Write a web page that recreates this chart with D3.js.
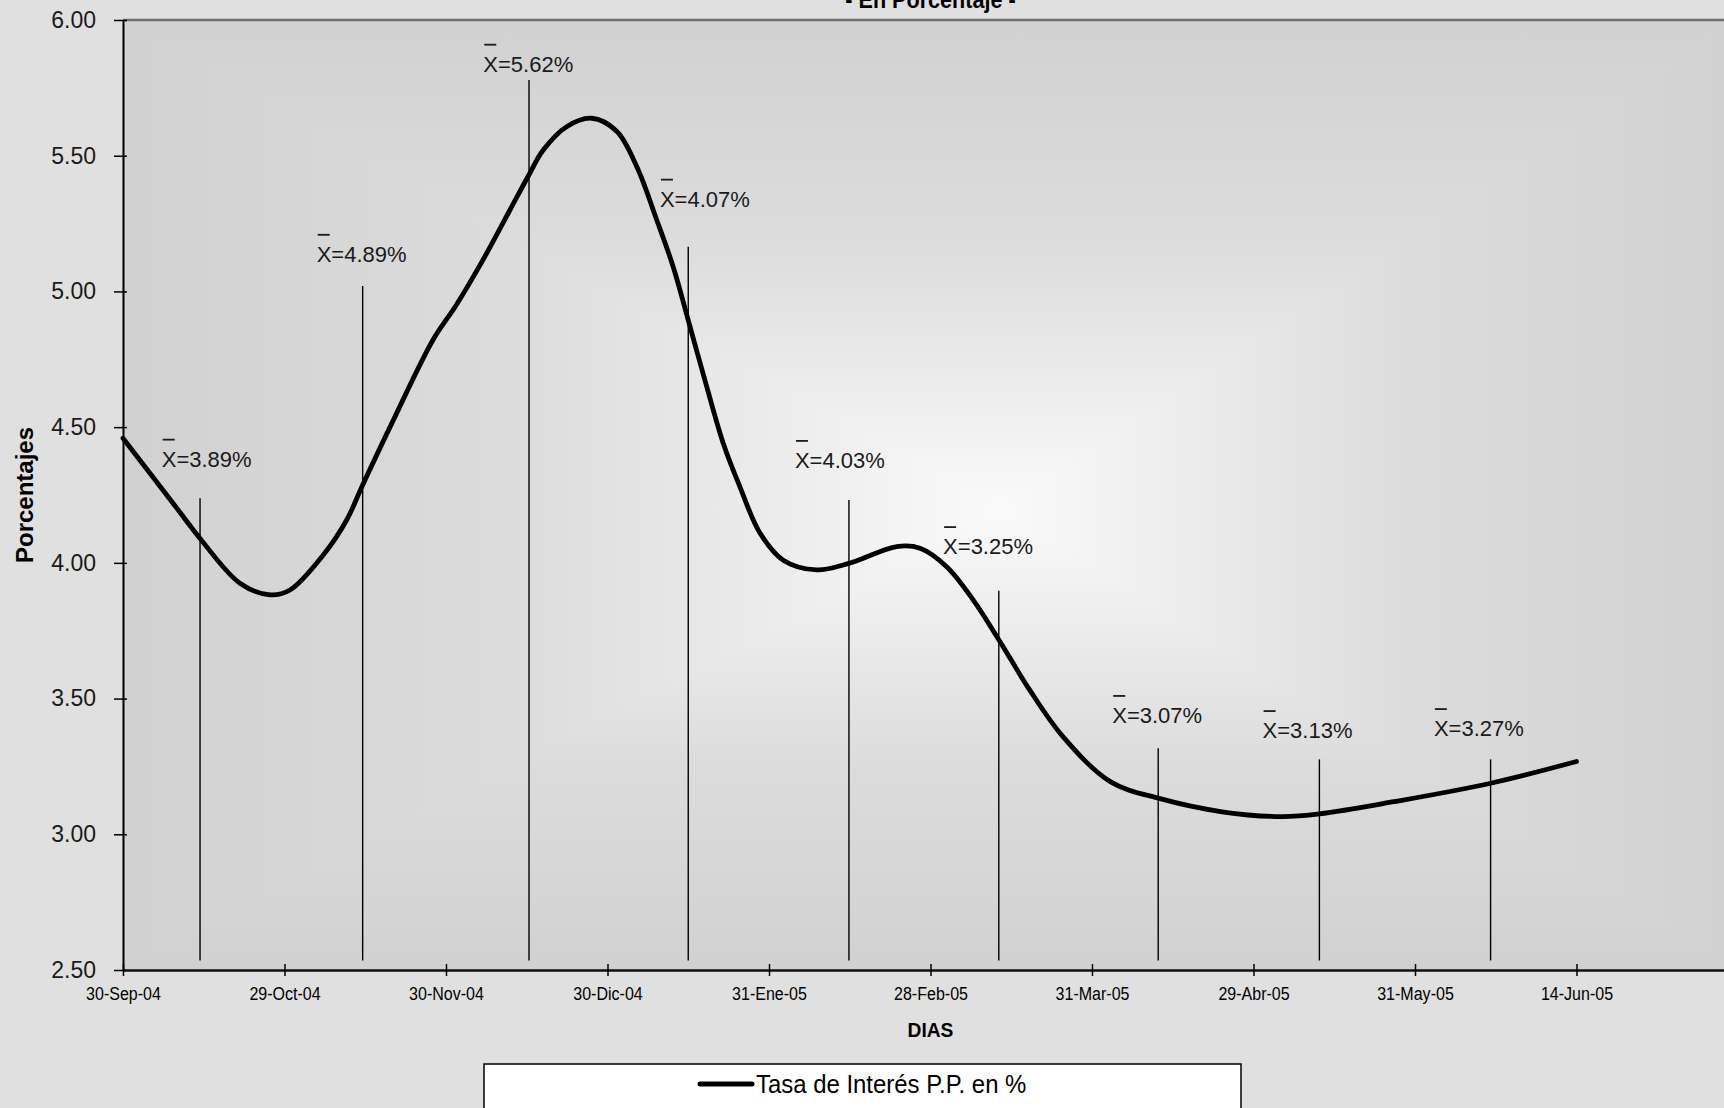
<!DOCTYPE html>
<html>
<head>
<meta charset="utf-8">
<script src="https://cdn.jsdelivr.net/npm/d3@7"></script>
<style>
  html, body { margin: 0; padding: 0; background: #e0e0e0; }
  svg { display: block; }
  text { font-family: "Liberation Sans", Arial, sans-serif; }
</style>
</head>
<body>
<svg id="chart" width="1724" height="1108"></svg>
<script>
// Etiquetas del eje de categorías (DIAS)
const fechas = ["30-Sep-04", "29-Oct-04", "30-Nov-04", "30-Dic-04", "31-Ene-05",
                "28-Feb-05", "31-Mar-05", "29-Abr-05", "31-May-05", "14-Jun-05"];

// Serie "Tasa de Interés P.P. en %": posición sobre el eje (en períodos) y valor
const periodo = [0, 0.311, 0.477, 0.724, 0.910, 1.034, 1.240, 1.385, 1.484,
                 1.674, 1.920, 2.066, 2.229, 2.396, 2.514, 2.601, 2.747, 2.902, 3.057,
                 3.181, 3.305, 3.407, 3.511, 3.614, 3.717, 3.820, 3.944, 4.088, 4.295,
                 4.495, 4.791, 4.935, 5.100, 5.265, 5.424, 5.616, 5.820, 6.113, 6.410,
                 6.805, 7.176, 7.409, 7.870, 8.469, 9.0];
const tasa = [4.459, 4.219, 4.090, 3.925, 3.882, 3.900, 4.029, 4.158, 4.287,
              4.526, 4.822, 4.952, 5.116, 5.300, 5.430, 5.520, 5.607, 5.638, 5.590,
              5.460, 5.263, 5.090, 4.870, 4.650, 4.440, 4.280, 4.110, 4.010, 3.974,
              3.998, 4.060, 4.054, 3.986, 3.863, 3.716, 3.530, 3.360, 3.194, 3.133,
              3.083, 3.065, 3.075, 3.120, 3.188, 3.268];

// Promedios mensuales: posición de la guía, promedio y altura de la guía (%)
const promedioPeriodo = [0.477, 1.484, 2.514, 3.500, 4.495, 5.423, 6.410, 7.408, 8.468];
const promedio = [3.89, 4.89, 5.62, 4.07, 4.03, 3.25, 3.07, 3.13, 3.27];
const promedioGuia = [4.238, 5.020, 5.779, 5.165, 4.232, 3.897, 3.317, 3.276, 3.276];

// Marcas del eje de porcentajes
const marcasY = [2.5, 3.0, 3.5, 4.0, 4.5, 5.0, 5.5, 6.0];

// ---- Dibujo ----
const svg = d3.select("#chart");
const area = { left: 123, top: 20, right: 1738, bottom: 970 };
const x = d3.scaleLinear().domain([0, 10]).range([area.left, area.right]);
const y = d3.scaleLinear().domain([2.5, 6]).range([area.bottom, area.top]);

// Ajusta el ancho del texto a una proporción de su ancho natural
function condense(sel, k) {
  sel.each(function () {
    const w = this.getComputedTextLength();
    this.setAttribute("textLength", (w * k).toFixed(1));
    this.setAttribute("lengthAdjust", "spacingAndGlyphs");
  });
}

// Fondo del área de trazado: degradado rectangular desde el centro
const defs = svg.append("defs");
const cx = (area.left + area.right) / 2, cy = (area.top + area.bottom) / 2;
const gx0 = 1000, gy0 = 510; // foco más claro del degradado
const lados = [
  { id: "gTop", pts: [[area.left, area.top], [area.right, area.top], [gx0, gy0]], from: [gx0, area.top] },
  { id: "gBot", pts: [[area.left, area.bottom], [area.right, area.bottom], [gx0, gy0]], from: [gx0, area.bottom] },
  { id: "gLeft", pts: [[area.left, area.top], [area.left, area.bottom], [gx0, gy0]], from: [area.left, gy0] },
  { id: "gRight", pts: [[area.right, area.top], [area.right, area.bottom], [gx0, gy0]], from: [area.right, gy0] }
];
lados.forEach(l => {
  const g = defs.append("linearGradient").attr("id", l.id)
    .attr("gradientUnits", "userSpaceOnUse")
    .attr("x1", l.from[0]).attr("y1", l.from[1]).attr("x2", gx0).attr("y2", gy0);
  g.append("stop").attr("offset", 0).attr("stop-color", "#d1d1d1");
  g.append("stop").attr("offset", 0.45).attr("stop-color", "#dcdcdc");
  g.append("stop").attr("offset", 1).attr("stop-color", "#fafafa");
});
const fondo = svg.append("g");
lados.forEach(l => {
  fondo.append("path")
    .attr("d", "M" + l.pts.map(p => p.join(",")).join("L") + "Z")
    .attr("fill", `url(#${l.id})`)
    .attr("stroke", `url(#${l.id})`).attr("stroke-width", 1);
});

// Borde superior del área de trazado
svg.append("line")
  .attr("x1", area.left).attr("x2", area.right)
  .attr("y1", area.top).attr("y2", area.top)
  .attr("stroke", "#6e6e6e").attr("stroke-width", 2.5);

// Título (parte inferior visible)
const titulo = svg.append("text")
  .attr("x", cx).attr("y", 7.5)
  .attr("text-anchor", "middle")
  .attr("font-size", 24).attr("font-weight", "bold").attr("fill", "#000")
  .text("- En Porcentaje -");
condense(titulo, 0.9);

// Eje Y
const gy = svg.append("g").attr("transform", `translate(${area.left},0)`)
  .call(d3.axisLeft(y).tickValues(marcasY).tickFormat(d3.format(".2f"))
    .tickSizeOuter(0).tickSizeInner(9).tickPadding(18));
gy.select(".domain").attr("stroke", "#000").attr("stroke-width", 2);
gy.selectAll(".tick line").attr("x1", 4).attr("stroke", "#000").attr("stroke-width", 1.5);
gy.selectAll(".tick text")
  .attr("font-size", 23).attr("fill", "#1a1a1a")
  .attr("font-family", "Liberation Sans, Arial, sans-serif");

// Eje X
const gx = svg.append("g").attr("transform", `translate(0,${area.bottom})`)
  .call(d3.axisBottom(x).tickValues(d3.range(fechas.length)).tickFormat(i => fechas[i])
    .tickSizeOuter(0).tickSizeInner(6));
gx.select(".domain").attr("stroke", "#111").attr("stroke-width", 2.5);
gx.selectAll(".tick line").attr("y1", -6).attr("y2", 6).attr("stroke", "#000").attr("stroke-width", 1.5);
const xt = gx.selectAll(".tick text")
  .attr("y", 30).attr("dy", 0)
  .attr("font-size", 18).attr("fill", "#000")
  .attr("font-family", "Liberation Sans, Arial, sans-serif");
condense(xt, 0.89);

// Títulos de ejes
const tX = svg.append("text")
  .attr("x", cx).attr("y", 1037).attr("text-anchor", "middle")
  .attr("font-size", 20).attr("font-weight", "bold").attr("fill", "#000")
  .text("DIAS");
condense(tX, 0.96);
svg.append("text")
  .attr("transform", `translate(33,${cy}) rotate(-90)`)
  .attr("text-anchor", "middle")
  .attr("font-size", 24).attr("font-weight", "bold").attr("fill", "#000")
  .text("Porcentajes");

// Guías verticales de los promedios mensuales
const baseGuia = 2.535;
svg.append("g").selectAll("line").data(promedio).join("line")
  .attr("x1", (d, i) => x(promedioPeriodo[i])).attr("x2", (d, i) => x(promedioPeriodo[i]))
  .attr("y1", (d, i) => y(promedioGuia[i])).attr("y2", y(baseGuia))
  .attr("stroke", "#000").attr("stroke-width", 1.4);

// Rótulos de los promedios (desplazamiento respecto al extremo de la guía)
const desfase = [[-38.3, -31.6], [-46, -24.2], [-45.7, -8.3], [-28.3, -40], [-54, -32],
                 [-55.7, -36.7], [-46, -25.3], [-56.8, -21.3], [-56.7, -23.3]];
const rotulos = svg.append("g").selectAll("g").data(promedio).join("g")
  .attr("transform", (d, i) =>
    `translate(${x(promedioPeriodo[i]) + desfase[i][0]},${y(promedioGuia[i]) + desfase[i][1]})`);
rotulos.append("text")
  .attr("font-size", 22).attr("fill", "#1a1a1a")
  .text(d => "X=" + d3.format(".2f")(d) + "%");
rotulos.append("line")
  .attr("x1", 1).attr("x2", 13).attr("y1", -27).attr("y2", -27)
  .attr("stroke", "#1a1a1a").attr("stroke-width", 1.8);

// Curva suavizada de la tasa
const linea = d3.line()
  .x(d => x(d[0])).y(d => y(d[1]))
  .curve(d3.curveCatmullRom.alpha(0.5));
svg.append("path")
  .datum(periodo.map((p, i) => [p, tasa[i]]))
  .attr("d", linea)
  .attr("fill", "none").attr("stroke", "#000").attr("stroke-width", 4.8)
  .attr("stroke-linejoin", "round").attr("stroke-linecap", "round");

// Leyenda
const ley = svg.append("g");
ley.append("rect")
  .attr("x", 484).attr("y", 1064).attr("width", 757).attr("height", 70)
  .attr("fill", "#fff").attr("stroke", "#000").attr("stroke-width", 1.5);
ley.append("line")
  .attr("x1", 700).attr("x2", 752).attr("y1", 1084).attr("y2", 1084)
  .attr("stroke", "#000").attr("stroke-width", 5).attr("stroke-linecap", "round");
const tl = ley.append("text")
  .attr("x", 756).attr("y", 1093)
  .attr("font-size", 26).attr("fill", "#000")
  .text("Tasa de Interés P.P. en %");
condense(tl, 0.92);
</script>
</body>
</html>
